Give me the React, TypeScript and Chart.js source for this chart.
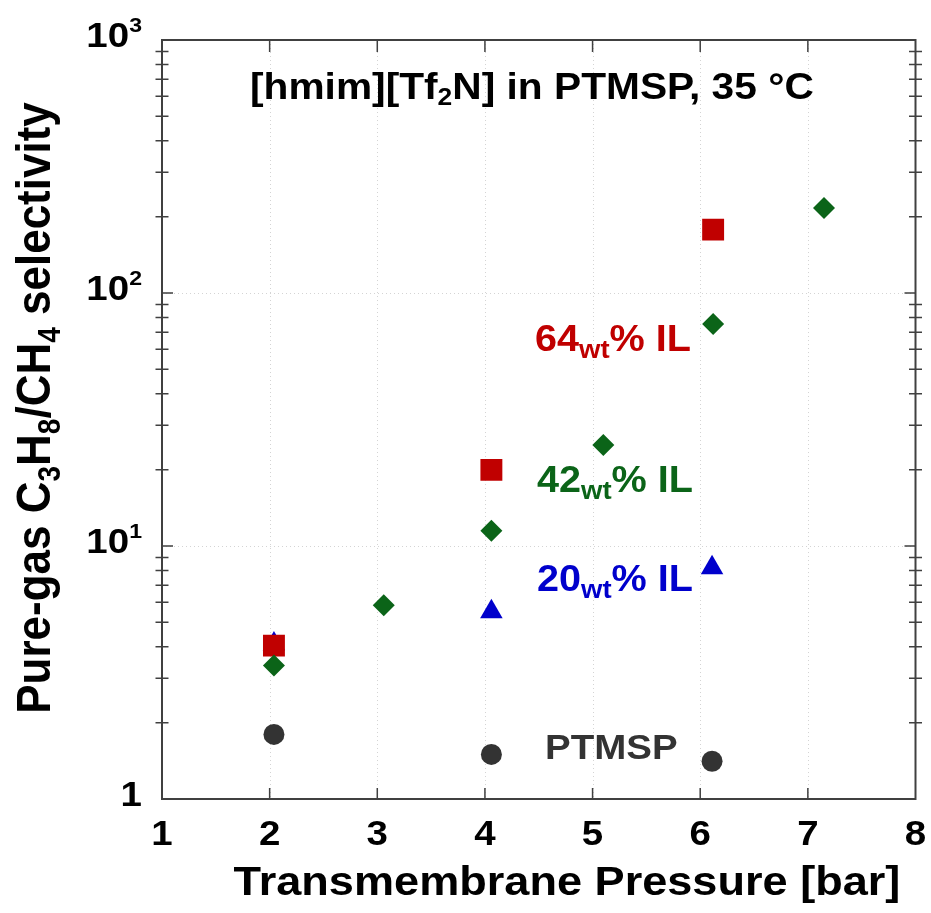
import { useEffect, useRef } from "react";
import { Chart, registerables } from "chart.js";

Chart.register(...registerables);

// Axis ticks
const xTickValues = [1, 2, 3, 4, 5, 6, 7, 8];
const xTickLabels = ["1", "2", "3", "4", "5", "6", "7", "8"];
const yDecades = [1, 10, 100, 1000];
const yDecadeExponents = ["", "1", "2", "3"];

// Pure-gas C3H8/CH4 selectivity vs transmembrane pressure
const ptmspPressure = [2.04, 4.06, 6.11];
const ptmspSelectivity = [1.8, 1.5, 1.41];

const il20Pressure = [2.04, 4.06, 6.11];
const il20Selectivity = [4.1, 5.5, 8.2];

const il42Pressure = [2.04, 3.06, 4.06, 5.1, 6.12, 7.15];
const il42Selectivity = [3.37, 5.83, 11.5, 25.1, 75.4, 217];

const il64Pressure = [2.04, 4.06, 6.12];
const il64Selectivity = [4.04, 20.0, 178];

// Colours
const RED = "#c00000";
const GREEN = "#0b6418";
const BLUE = "#0000cc";
const DARK = "#333333";
const FRAME = "#404040";

const FAMILY = '"Liberation Sans", Arial, Helvetica, sans-serif';
const SX = 1.1;

type Run = { text: string; size: number; dy?: number };

function drawRich(
  ctx: CanvasRenderingContext2D,
  runs: Run[],
  x: number,
  y: number,
  align: "left" | "center" | "right",
  color: string,
  rotate = false
) {
  ctx.save();
  ctx.textBaseline = "alphabetic";
  ctx.textAlign = "left";
  const widths = runs.map((r) => {
    ctx.font = `bold ${r.size}px ${FAMILY}`;
    return ctx.measureText(r.text).width;
  });
  const total = widths.reduce((a, b) => a + b, 0);
  ctx.translate(x, y);
  ctx.scale(SX, 1);
  if (rotate) ctx.rotate(-Math.PI / 2);
  let cx = align === "left" ? 0 : align === "center" ? -total / 2 : -total;
  ctx.fillStyle = color;
  runs.forEach((r, i) => {
    ctx.font = `bold ${r.size}px ${FAMILY}`;
    ctx.fillText(r.text, cx, r.dy ?? 0);
    cx += widths[i];
  });
  ctx.restore();
}

const framePlugin = {
  id: "frameAndText",
  beforeDatasetsDraw(chart: any) {
    const { ctx, chartArea: a, scales } = chart;
    const xs = scales.x;
    const ys = scales.y;
    ctx.save();
    ctx.strokeStyle = "#d4d4d4";
    ctx.lineWidth = 1;
    ctx.setLineDash([1, 3]);
    xTickValues.slice(1, -1).forEach((v) => {
      const px = Math.round(xs.getPixelForValue(v)) + 0.5;
      ctx.beginPath();
      ctx.moveTo(px, a.top);
      ctx.lineTo(px, a.bottom);
      ctx.stroke();
    });
    yDecades.slice(1, -1).forEach((v) => {
      const py = Math.round(ys.getPixelForValue(v)) + 0.5;
      ctx.beginPath();
      ctx.moveTo(a.left, py);
      ctx.lineTo(a.right, py);
      ctx.stroke();
    });
    ctx.restore();
  },
  afterDraw(chart: any) {
    const { ctx, chartArea: a, scales } = chart;
    const xs = scales.x;
    const ys = scales.y;
    ctx.save();
    ctx.strokeStyle = FRAME;
    ctx.lineWidth = 2;
    ctx.strokeRect(a.left, a.top, a.right - a.left, a.bottom - a.top);

    ctx.lineWidth = 1.5;
    ctx.beginPath();
    // x ticks, inward on bottom and top
    xTickValues.slice(1, -1).forEach((v) => {
      const px = xs.getPixelForValue(v);
      ctx.moveTo(px, a.bottom);
      ctx.lineTo(px, a.bottom - 11);
      ctx.moveTo(px, a.top);
      ctx.lineTo(px, a.top + 12);
    });
    // y ticks: majors inward, minors crossing the axis
    for (let d = 0; d < yDecades.length - 1; d++) {
      const base = yDecades[d];
      if (d > 0) {
        const py = ys.getPixelForValue(base);
        ctx.moveTo(a.left, py);
        ctx.lineTo(a.left + 11, py);
        ctx.moveTo(a.right, py);
        ctx.lineTo(a.right - 11, py);
      }
      for (let m = 2; m <= 9; m++) {
        const py = ys.getPixelForValue(base * m);
        ctx.moveTo(a.left - 6.5, py);
        ctx.lineTo(a.left + 6.5, py);
        ctx.moveTo(a.right - 6.5, py);
        ctx.lineTo(a.right + 6.5, py);
      }
    }
    ctx.stroke();
    ctx.restore();

    // x tick labels
    xTickValues.forEach((v, i) => {
      drawRich(ctx, [{ text: xTickLabels[i], size: 35 }], xs.getPixelForValue(v), a.bottom + 46, "center", "#000");
    });
    // y tick labels with superscript exponents
    yDecades.forEach((v, i) => {
      const py = ys.getPixelForValue(v) + 7;
      const runs: Run[] = yDecadeExponents[i]
        ? [
            { text: "10", size: 35 },
            { text: yDecadeExponents[i], size: 21, dy: -15 },
          ]
        : [{ text: "1", size: 35 }];
      drawRich(ctx, runs, a.left - 20, py, "right", "#000");
    });

    // axis titles
    drawRich(ctx, [{ text: "Transmembrane Pressure [bar]", size: 41 }], 567, 895, "center", "#000");
    drawRich(
      ctx,
      [
        { text: "Pure-gas C", size: 44 },
        { text: "3", size: 28, dy: 9 },
        { text: "H", size: 44 },
        { text: "8", size: 28, dy: 9 },
        { text: "/CH", size: 44 },
        { text: "4", size: 28, dy: 9 },
        { text: " selectivity", size: 44 },
      ],
      50,
      408,
      "center",
      "#000",
      true
    );

    // plot title
    drawRich(
      ctx,
      [
        { text: "[hmim][Tf", size: 37 },
        { text: "2", size: 24, dy: 6 },
        { text: "N] in PTMSP, 35 °C", size: 37 },
      ],
      250,
      99,
      "left",
      "#000"
    );

    // series annotations
    const wtLabel = (n: string): Run[] => [
      { text: n, size: 36 },
      { text: "wt", size: 25, dy: 7 },
      { text: "% IL", size: 36 },
    ];
    drawRich(ctx, wtLabel("64"), 535, 351, "left", RED);
    drawRich(ctx, wtLabel("42"), 537, 492, "left", GREEN);
    drawRich(ctx, wtLabel("20"), 537, 591, "left", BLUE);
    drawRich(ctx, [{ text: "PTMSP", size: 35 }], 545, 759, "left", DARK);
  },
};

function toPoints(xs: number[], ys: number[]) {
  return xs.map((x, i) => ({ x, y: ys[i] }));
}

export default function App() {
  const canvasRef = useRef<HTMLCanvasElement | null>(null);

  useEffect(() => {
    if (!canvasRef.current) return;
    const chart = new Chart(canvasRef.current, {
      type: "scatter",
      data: {
        datasets: [
          {
            label: "42wt% IL",
            data: toPoints(il42Pressure, il42Selectivity),
            pointStyle: "rectRot",
            pointRadius: 11,
            backgroundColor: GREEN,
            borderWidth: 0,
          },
          {
            label: "64wt% IL",
            data: toPoints(il64Pressure, il64Selectivity),
            pointStyle: "rect",
            pointRadius: 15.5,
            backgroundColor: RED,
            borderWidth: 0,
          },
          {
            label: "20wt% IL",
            data: toPoints(il20Pressure, il20Selectivity),
            pointStyle: "triangle",
            pointRadius: 13,
            backgroundColor: BLUE,
            borderWidth: 0,
          },
          {
            label: "PTMSP",
            data: toPoints(ptmspPressure, ptmspSelectivity),
            pointStyle: "circle",
            pointRadius: 10.5,
            backgroundColor: DARK,
            borderWidth: 0,
          },
        ],
      },
      options: {
        animation: false,
        responsive: false,
        events: [],
        layout: { padding: { left: 162, right: 12, top: 40, bottom: 114 } },
        plugins: { legend: { display: false }, tooltip: { enabled: false } },
        scales: {
          x: { type: "linear", min: 1, max: 8, display: false },
          y: { type: "logarithmic", min: 1, max: 1000, display: false },
        },
      },
      plugins: [framePlugin],
    });
    return () => chart.destroy();
  }, []);

  return (
    <div style={{ position: "fixed", left: 0, top: 0, width: 931, height: 913, background: "#fff" }}>
      <canvas ref={canvasRef} width={931} height={913} style={{ width: 931, height: 913, display: "block" }} />
    </div>
  );
}
